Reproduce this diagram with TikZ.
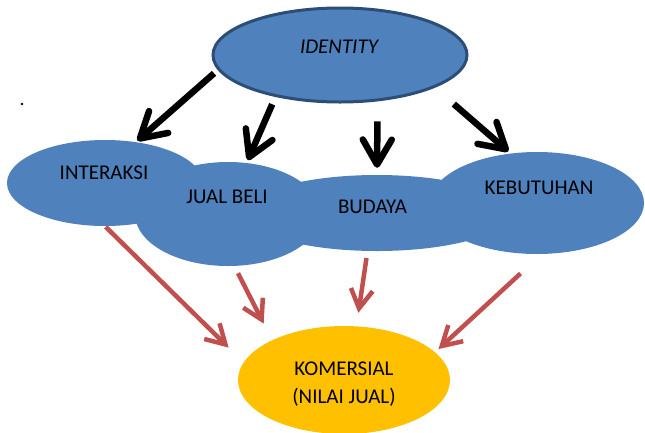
\documentclass[tikz,border=0pt]{standalone}
\usepackage{fontspec}
\setmainfont{Carlito}
\usetikzlibrary{arrows.meta,shapes.geometric}
\definecolor{blu}{HTML}{4F81BD}
\definecolor{navy}{HTML}{2C4D75}
\definecolor{redd}{HTML}{C0504D}
\definecolor{gold}{HTML}{FFC000}
\begin{document}
\begin{tikzpicture}[x=1pt,y=-1pt,
  blob/.style={ellipse, fill=blu, inner sep=0pt},
  lbl/.style={anchor=base, font=\fontsize{21}{24}\selectfont, text=black, inner sep=0pt},
  blk/.style={line width=6.5pt, draw=black, -{Straight Barb[length=25pt,width=29pt,round]}},
  rda/.style={line width=4.5pt, draw=redd, -{Straight Barb[length=19pt,width=22pt]}}]
\useasboundingbox (0,0) rectangle (645,432);
% lower blue ellipses
\node[blob, minimum width=196pt, minimum height=86pt] (int) at (105,183) {};
\node[blob, minimum width=186pt, minimum height=104pt] (jb) at (228,214) {};
\node[blob, minimum width=266pt, minimum height=76pt] (bud) at (377,213) {};
\node[blob, minimum width=214pt, minimum height=102pt] (keb) at (537,203) {};
% top ellipse
\node[blob, draw=navy, line width=3pt, minimum width=254pt, minimum height=94pt] (id) at (340,55) {};
% black arrows
\draw[blk, shorten <=5pt, shorten >=2pt] (id.187) -- (int.53);
\draw[blk, shorten <=8pt, shorten >=3pt] (id.213.6) -- (jb.70);
\draw[blk, shorten <=20pt, shorten >=7pt] (id.309.4) -- (bud.90);
\draw[blk, shorten <=25pt, shorten >=3pt] (id.341.2) -- (keb.118.7);
% bottom ellipse
\node[ellipse, fill=gold, inner sep=0pt, minimum width=212pt, minimum height=108pt] (kom) at (344,380) {};
% red arrows
\draw[rda, shorten <=1pt, shorten >=21pt] (int.270) -- (kom.170.9);
\draw[rda, shorten <=8pt, shorten >=18.5pt] (jb.277.2) -- (kom.151.6);
\draw[rda, shorten <=7pt, shorten >=13.5pt] (bud.256.8) -- (kom.77.55);
\draw[rda, shorten <=28.5pt, shorten >=4.6pt] (keb.275.9) -- (kom.17.9);
% texts
\node[lbl, font=\fontsize{21}{24}\selectfont\itshape] (tid) at (339,53) {IDENTITY};
\node[lbl] (tint) at (104,179) {INTERAKSI};
\node[lbl] (tjb) at (227,203) {JUAL BELI};
\node[lbl] (tbud) at (372.5,213) {BUDAYA};
\node[lbl] (tkeb) at (539,194) {KEBUTUHAN};
\node[lbl] (tkom1) at (344,375.5) {KOMERSIAL};
\node[lbl] (tkom2) at (344,403) {(NILAI JUAL)};
% stray dot
\fill (22,104) circle (1.3pt);
\end{tikzpicture}
\end{document}
